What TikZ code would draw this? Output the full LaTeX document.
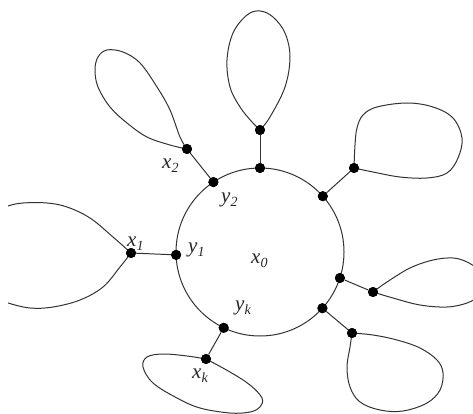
\documentclass[tikz,border=0pt]{standalone}
\usepackage{fontspec}
\setmainfont{Liberation Serif}
\newcommand\glbl[2]{\textit{#1}\raisebox{-4.5pt}{\fontsize{14}{14}\selectfont\itshape #2}}
\tikzset{
  dot/.style={circle, fill=black, inner sep=0pt, minimum size=10pt},
  edge/.style={line width=1pt, draw=black!80},
  lbl/.style={inner sep=0pt, anchor=base west, font=\fontsize{21}{21}\selectfont, text=black!85},
}
\begin{document}
\begin{tikzpicture}[x=1pt, y=-1pt]
\useasboundingbox (0,0) rectangle (473,414);
% central cycle
\node[circle, draw=black!80, line width=1pt, minimum size=168pt, inner sep=0pt, outer sep=0pt] (c) at (260,252) {};
% vertices on the cycle
\node[dot] (y1) at (176.1,254.9) {};
\node[dot] (y2) at (213.4,182.1) {};
\node[dot] (yt) at (260,168) {};
\node[dot] (yu) at (322.8,196.2) {};
\node[dot] (yr) at (339.9,278.0) {};
\node[dot] (yl) at (322.4,308.2) {};
\node[dot] (yk) at (223.7,327.8) {};
% outer vertices
\node[dot] (x1) at (131,253) {};
\node[dot] (x2) at (187,149) {};
\node[dot] (xt) at (260,130) {};
\node[dot] (xu) at (354,168) {};
\node[dot] (xr) at (373,292) {};
\node[dot] (xl) at (352,333) {};
\node[dot] (xk) at (206,359) {};
% pendant edges
\draw[edge] (x1) -- (y1);
\draw[edge] (x2) -- (y2);
\draw[edge] (xt) -- (yt);
\draw[edge] (xu) -- (yu);
\draw[edge] (xr) -- (yr);
\draw[edge] (xl) -- (yl);
\draw[edge] (xk) -- (yk);
% loops
\begin{scope}
\clip (8,0) rectangle (473,414);
\draw[edge] plot[smooth, tension=0.6] coordinates {(x1.center) (113,237) (90,218) (67,207) (47,203) (23,203) (8,206) (-8,213) (-18,255) (-8,297) (8,303) (30,308) (53,307) (80,300) (103,287) (120,267) (x1.center)};
\end{scope}
\draw[edge] plot[smooth, tension=0.6] coordinates {(x2.center) (180,137) (170,110) (157,87) (140,63) (123,52) (107,50) (98,57) (95,70) (98,87) (110,107) (127,123) (147,137) (170,145) (x2.center)};
\draw[edge] plot[smooth, tension=0.6] coordinates {(xt.center) (270,117) (285,87) (290,57) (285,33) (273,17) (260,11) (247,15) (233,33) (227,60) (230,87) (240,107) (252,122) (xt.center)};
\draw[edge] plot[smooth, tension=0.6] coordinates {(xu.center) (355,145) (357,128) (363,115) (377,107) (407,103) (433,107) (453,118) (462,138) (458,158) (447,173) (427,178) (400,177) (373,172) (xu.center)};
\draw[edge] plot[smooth, tension=0.6] coordinates {(xr.center) (387,282) (410,268) (433,260) (453,258) (467,262) (478,270) (484,283) (478,296) (467,303) (447,307) (420,305) (393,298) (xr.center)};
\draw[edge] plot[smooth, tension=0.6] coordinates {(xl.center) (350,347) (347,367) (350,387) (360,402) (380,410) (403,411) (427,403) (440,390) (443,373) (437,360) (420,348) (397,340) (373,335) (xl.center)};
\draw[edge] plot[smooth, tension=0.6] coordinates {(xk.center) (187,356) (163,354) (147,357) (143,367) (153,383) (177,398) (200,408) (230,413) (250,412) (260,407) (262,398) (250,385) (230,372) (xk.center)};
% redraw dots on top of the curves
\foreach \v in {y1,y2,yt,yu,yr,yl,yk,x1,x2,xt,xu,xr,xl,xk}{\fill (\v.center) circle (5pt);}
% labels
\node[lbl] (lx2) at (162,168) {\glbl{x}{2}};
\node[lbl] (ly2) at (221,202) {\glbl{y}{2}};
\node[lbl] (lx1) at (127,246) {\glbl{x}{1}};
\node[lbl] (ly1) at (188,252) {\glbl{y}{1}};
\node[lbl] (lx0) at (251,263) {\glbl{x}{0}};
\node[lbl] (lyk) at (235,310) {\glbl{y}{k}};
\node[lbl] (lxk) at (192,378) {\glbl{x}{k}};
\end{tikzpicture}
\end{document}
